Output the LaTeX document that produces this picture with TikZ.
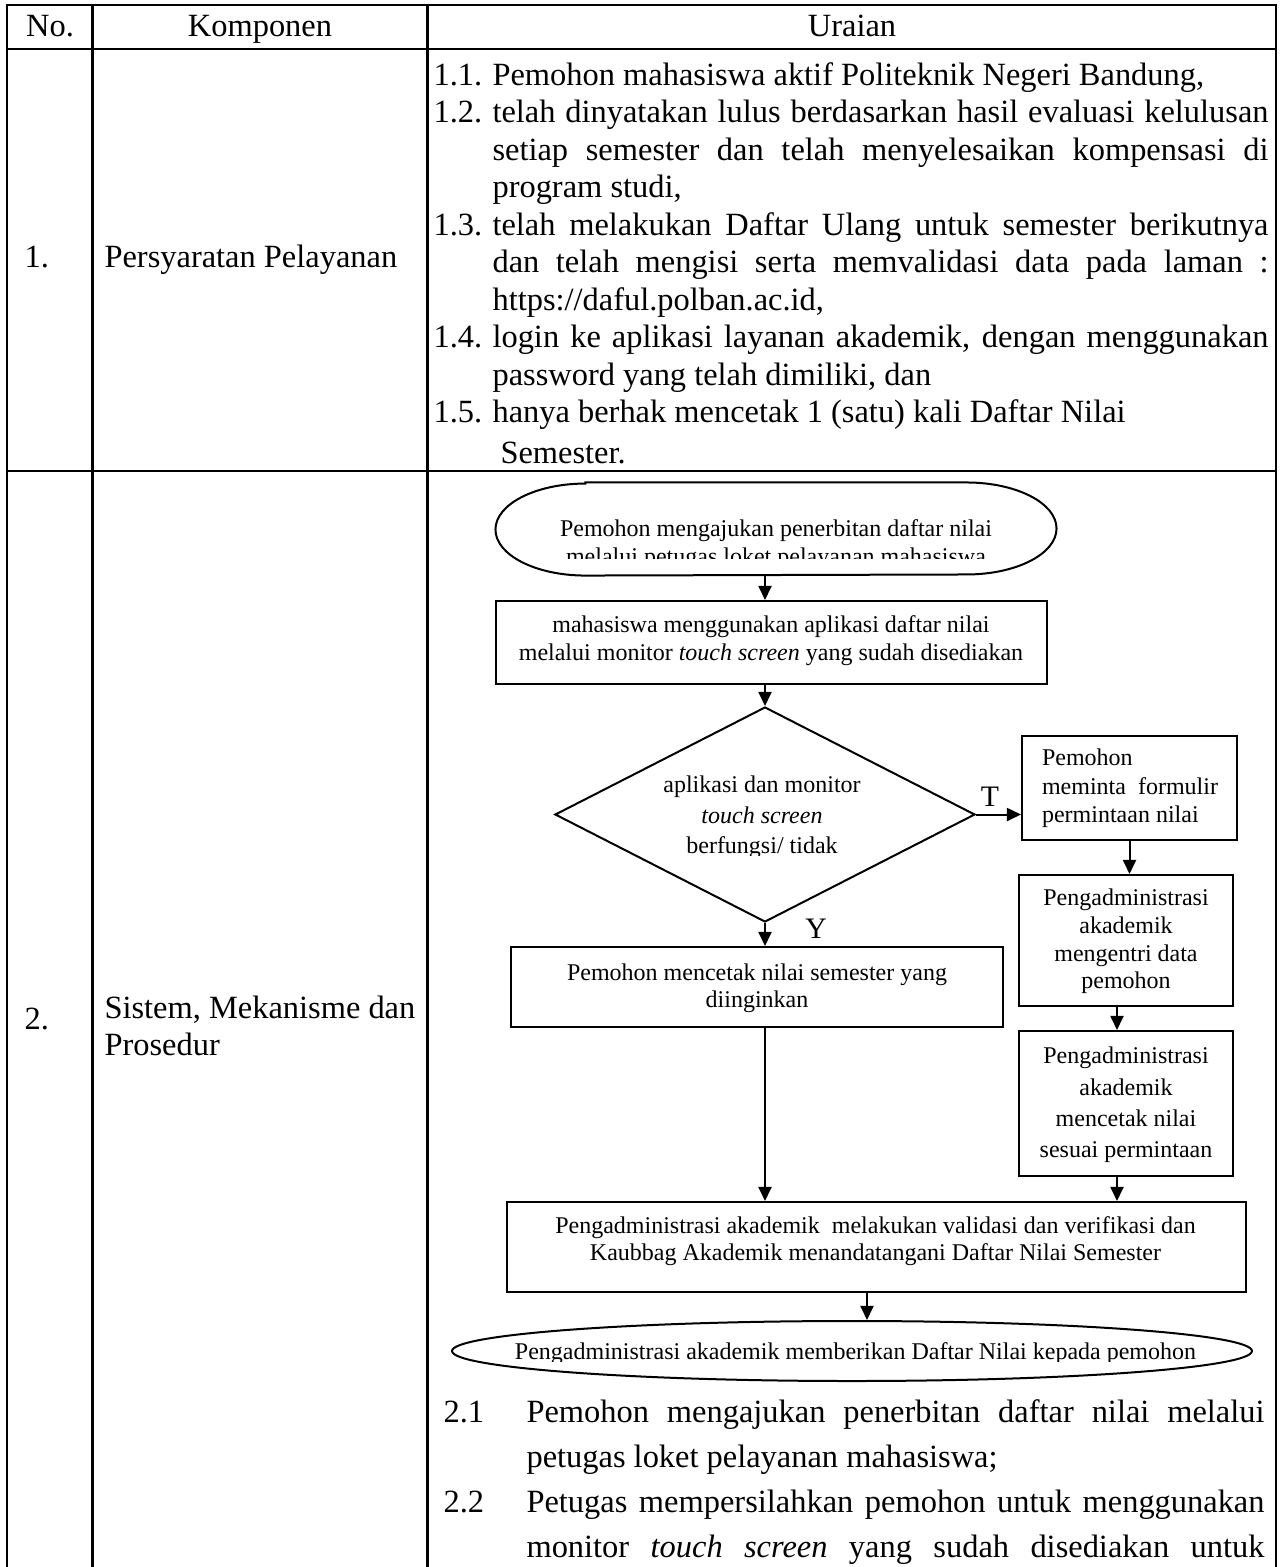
\documentclass[tikz,border=0pt]{standalone}
\usepackage{fontspec}
\setmainfont{Liberation Serif}
\usetikzlibrary{arrows.meta,shapes.geometric}
% one drawing unit
\newcommand\pxu{0.37pt}
\newdimen\pxd \pxd=0.37pt
% justified lines of the two list columns
\newcommand\jrow[1]{\makebox[776\pxd][s]{#1}}
\newcommand\jsec[1]{\makebox[738\pxd][s]{#1}}

\begin{document}
\begin{tikzpicture}[x=\pxu, y=-\pxu,
  grid/.style={line width=1pt},
  body/.style={font=\fontsize{12}{14}\selectfont, inner sep=0pt, anchor=base west},
  bodyc/.style={body, anchor=base},
  flow/.style={inner sep=0pt, align=center},
  fs/.style={font=\fontsize{8.88}{#1}\selectfont},
  fl/.style={line width=0.74pt},
  box/.style={draw, fl, rectangle, inner sep=0pt},
  arr/.style={fl, -{Triangle[length=5.2pt,width=4.8pt]}},
  lab/.style={font=\fontsize{11}{13}\selectfont, inner sep=0pt, anchor=base}
]
\useasboundingbox (0,0) rectangle (1286,1567);

% ---------- table rules ----------
\draw[grid] (7,1567) -- (7,5) -- (1276,5) -- (1276,1567);
\draw[grid] (7,49) -- (1276,49);
\draw[grid] (7,471) -- (1276,471);
\draw[grid] (92.7,5) -- (92.7,1567);
\draw[grid] (427.7,5) -- (427.7,1567);

% ---------- header ----------
\node[bodyc] (hno) at (50,36) {No.};
\node[bodyc] (hkomp) at (260,36) {Komponen};
\node[bodyc] (hur) at (852,36) {Uraian};

% ---------- row 1 ----------
\node[body] (n1) at (24,267) {1.};
\node[body] (k1) at (104,267) {Persyaratan Pelayanan};

\node[body] (r11n) at (433,85) {1.1.};
\node[body] (r11) at (492,85) {Pemohon mahasiswa aktif Politeknik Negeri Bandung,};
\node[body] (r12n) at (433,122.5) {1.2.};
\node[body] (r12) at (492,122.5) {\jrow{telah dinyatakan lulus berdasarkan hasil evaluasi kelulusan}};
\node[body] (r12b) at (492,160) {\jrow{setiap semester dan telah menyelesaikan kompensasi di}};
\node[body] (r12c) at (492,197.5) {program studi,};
\node[body] (r13n) at (433,235) {1.3.};
\node[body] (r13) at (492,235) {\jrow{telah melakukan Daftar Ulang untuk semester berikutnya}};
\node[body] (r13b) at (492,272.5) {\jrow{dan telah mengisi serta memvalidasi data pada laman :}};
\node[body] (r13c) at (492,310) {https://daful.polban.ac.id,};
\node[body] (r14n) at (433,347.5) {1.4.};
\node[body] (r14) at (492,347.5) {\jrow{login ke aplikasi layanan akademik, dengan menggunakan}};
\node[body] (r14b) at (492,385) {password yang telah dimiliki, dan};
\node[body] (r15n) at (433,422.5) {1.5.};
\node[body] (r15) at (492,422.5) {hanya berhak mencetak 1 (satu) kali Daftar Nilai};
\node[body] (r15b) at (500,463) {Semester.};

% ---------- row 2 ----------
\node[body] (n2) at (24,1029) {2.};
\node[body] (k2) at (104,1018) {Sistem, Mekanisme dan};
\node[body] (k2b) at (104,1055) {Prosedur};

\node[body] (s21n) at (443,1422) {2.1};
\node[body] (s21) at (526,1422) {\jsec{Pemohon mengajukan penerbitan daftar nilai melalui}};
\node[body] (s21b) at (526,1467) {petugas loket pelayanan mahasiswa;};
\node[body] (s22n) at (443,1512) {2.2};
\node[body] (s22) at (526,1512) {\jsec{Petugas mempersilahkan pemohon untuk menggunakan}};
\node[body] (s22b) at (526,1557) {\jsec{monitor \textit{touch screen} yang sudah disediakan untuk}};

% ---------- flowchart ----------
\coordinate (colA) at (765,0);
\coordinate (colB) at (1117,0);
\coordinate (colC) at (867,0);

% start terminator
\node[inner sep=0pt, minimum width=560*\pxu, minimum height=92*\pxu] (start) at (776,529) {};
\draw[fl] ([xshift=33.3pt]start.north west) -- ([xshift=-33.3pt]start.north east)
  arc[start angle=90, end angle=-90, x radius=33.3pt, y radius=17.02pt]
  -- ([xshift=33.3pt]start.south west)
  arc[start angle=270, end angle=90, x radius=33.3pt, y radius=17.02pt] -- cycle;
\begin{scope}
  \clip (496,483) rectangle (1056,558);
  \node[flow, fs=10.36] (starttxt) at (776,545)
    {Pemohon mengajukan penerbitan daftar nilai\\melalui petugas loket pelayanan mahasiswa};
\end{scope}

% process boxes
\node[box, minimum width=551*\pxu, minimum height=83*\pxu] (box1) at (771.5,642.5) {};
\node[flow, fs=10.36] (box1txt) at (771,641)
  {mahasiswa menggunakan aplikasi daftar nilai\\melalui monitor \textit{touch screen} yang sudah disediakan};

% decision
\node[draw, fl, diamond, inner sep=0pt, minimum width=420*\pxu, minimum height=215*\pxu] (dia) at (765,814.5) {};
\begin{scope}
  \clip (553,707) rectangle (975,855);
  \node[flow, fs=11.29] (diatxt) at (762,817.5)
    {aplikasi dan monitor\\\textit{touch screen}\\berfungsi/ tidak};
\end{scope}

\node[box, minimum width=215*\pxu, minimum height=104*\pxu] (tbox) at (1129.5,788) {};
\node[flow, align=left, fs=10.55] (tboxtxt) at (1130,788.5)
  {Pemohon\\meminta\ \ formulir\\permintaan nilai};

\node[box, minimum width=214*\pxu, minimum height=131*\pxu] (box2) at (1126,940.5) {};
\node[flow, fs=10.25] (box2txt) at (1126,941.5)
  {Pengadministrasi\\akademik\\mengentri data\\pemohon};

\node[box, minimum width=214*\pxu, minimum height=145*\pxu] (box3) at (1126,1103.5) {};
\node[flow, fs=11.58] (box3txt) at (1126,1105)
  {Pengadministrasi\\akademik\\mencetak nilai\\sesuai permintaan};

\node[box, minimum width=492*\pxu, minimum height=80*\pxu] (mbox) at (757,987) {};
\node[flow, fs=9.99] (mboxtxt) at (757,988.5)
  {Pemohon mencetak nilai semester yang\\diinginkan};

\node[box, minimum width=739*\pxu, minimum height=90*\pxu] (bigbox) at (876.5,1247) {};
\node[flow, fs=9.99] (bigtxt) at (875.5,1241.5)
  {Pengadministrasi akademik\ \ melakukan validasi dan verifikasi dan\\Kaubbag Akademik menandatangani Daftar Nilai Semester};

% end terminator
\node[draw, fl, ellipse, inner sep=0pt, minimum width=800*\pxu, minimum height=60*\pxu] (endnode) at (852,1351) {};
\begin{scope}
  \clip (452,1321) rectangle (1256,1361);
  \node[flow, fs=10, anchor=base] (endtxt) at (855.5,1359.4)
    {Pengadministrasi akademik memberikan Daftar Nilai kepada pemohon};
\end{scope}

% branch labels
\node[lab] (tlab) at (990,806) {T};
\node[lab] (ylab) at (816,938) {Y};

% connectors
\draw[arr] (start.south -| colA) -- (box1.north -| colA);
\draw[arr] (box1.south -| colA) -- (dia.north);
\draw[arr] (dia.east) -- (dia.east -| tbox.west);
\draw[arr] (dia.south) -- (dia.south |- mbox.north);
\draw[arr] (tbox.south) -- (tbox.south |- box2.north);
\draw[arr] (box2.south -| colB) -- (box3.north -| colB);
\draw[arr] (box3.south -| colB) -- (bigbox.north -| colB);
\draw[arr] (mbox.south -| colA) -- (bigbox.north -| colA);
\draw[arr] (bigbox.south -| colC) -- (endnode.north -| colC);
\end{tikzpicture}
\end{document}
